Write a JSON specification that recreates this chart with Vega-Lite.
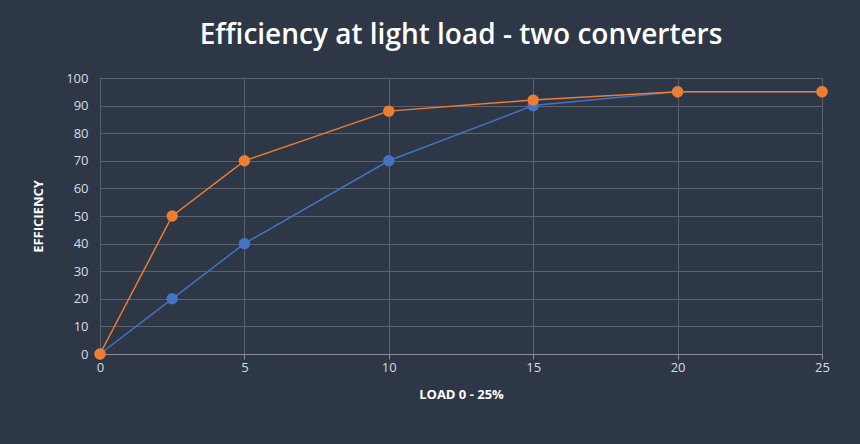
{
  "$schema": "https://vega.github.io/schema/vega-lite/v6.json",
  "autosize": "none",
  "width": 722,
  "height": 276,
  "padding": {"left": 100, "top": 78, "right": 38, "bottom": 90},
  "background": "#2e3746",
  "config": {
    "view": {"stroke": "#5a6272"},
    "font": "Open Sans"
  },
  "title": {
    "text": "Efficiency at light load - two converters",
    "color": "white",
    "fontSize": 28,
    "fontWeight": 600,
    "font": "Open Sans",
    "offset": 22,
    "anchor": "middle"
  },
  "data": {
    "values": [
      {"load": 0, "eff": 0, "series": "A"},
      {"load": 2.5, "eff": 20, "series": "A"},
      {"load": 5, "eff": 40, "series": "A"},
      {"load": 10, "eff": 70, "series": "A"},
      {"load": 15, "eff": 90, "series": "A"},
      {"load": 20, "eff": 95, "series": "A"},
      {"load": 25, "eff": 95, "series": "A"},
      {"load": 0, "eff": 0, "series": "B"},
      {"load": 2.5, "eff": 50, "series": "B"},
      {"load": 5, "eff": 70, "series": "B"},
      {"load": 10, "eff": 88, "series": "B"},
      {"load": 15, "eff": 92, "series": "B"},
      {"load": 20, "eff": 95, "series": "B"},
      {"load": 25, "eff": 95, "series": "B"}
    ]
  },
  "mark": {"type": "line", "point": {"size": 130, "filled": true, "opacity": 1}, "strokeWidth": 1.5},
  "encoding": {
    "x": {
      "field": "load", "type": "quantitative",
      "scale": {"domain": [0, 25], "nice": false},
      "title": "LOAD 0 - 25%",
      "axis": {"values": [0, 5, 10, 15, 20, 25], "labelFlush": false, "gridColor": "#5a6272", "domainColor": "#8a909a", "tickColor": "#8a909a",
        "labelColor": "#d8dce2", "labelFontSize": 13, "titleColor": "white", "titleFontSize": 13, "titleFontWeight": "bold", "titlePadding": 14}
    },
    "y": {
      "field": "eff", "type": "quantitative",
      "scale": {"domain": [0, 100], "nice": false},
      "title": "EFFICIENCY",
      "axis": {"values": [0,10,20,30,40,50,60,70,80,90,100], "labelOverlap": false, "labelFlush": false, "gridColor": "#5a6272", "domain": false, "ticks": false,
        "labelColor": "#d8dce2", "labelFontSize": 13, "labelPadding": 12, "titleColor": "white", "titleFontSize": 13, "titleFontWeight": "bold", "titlePadding": 20}
    },
    "color": {
      "field": "series", "type": "nominal",
      "scale": {"domain": ["A", "B"], "range": ["#4472c4", "#ed7d31"]},
      "legend": null
    }
  }
}
